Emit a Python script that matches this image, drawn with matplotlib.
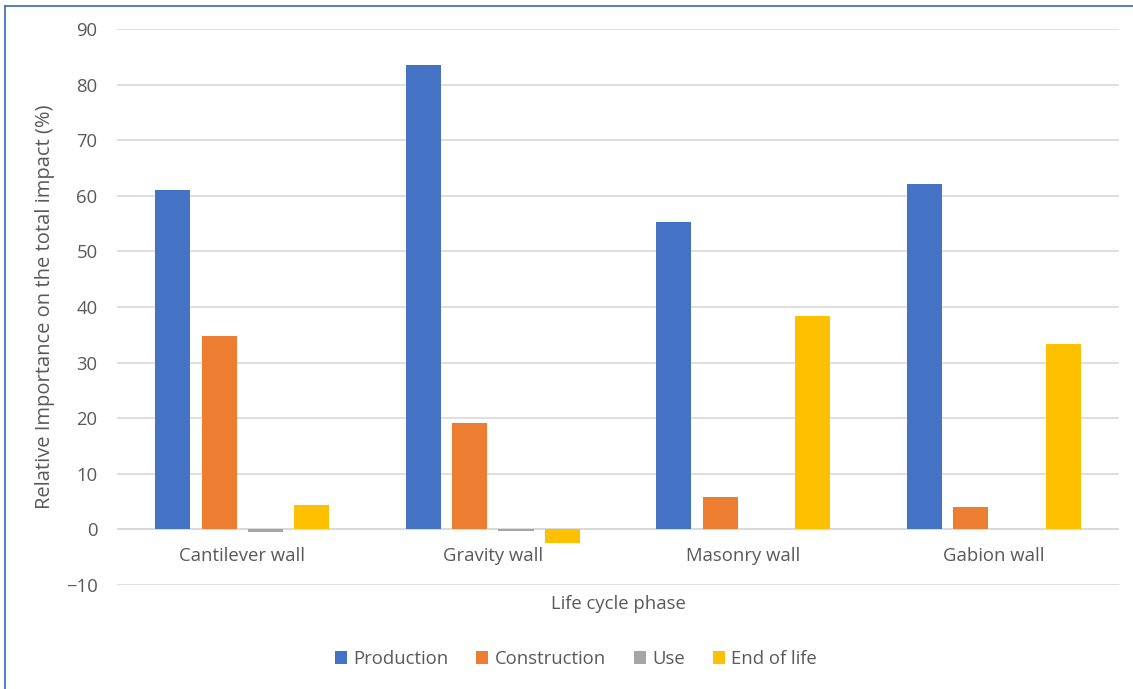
import matplotlib.pyplot as plt
import numpy as np
from matplotlib.lines import Line2D

plt.rcParams["font.family"] = ["Open Sans", "DejaVu Sans"]

walls = ["Cantilever wall", "Gravity wall", "Masonry wall", "Gabion wall"]
phases = ["Production", "Construction", "Use", "End of life"]
production = [61.1, 83.5, 55.3, 62.1]
construction = [34.7, 19.1, 5.9, 4.1]
use = [-0.4, -0.3, 0.0, 0.0]
end_of_life = [4.3, -2.5, 38.4, 33.4]
colors = ["#4472C4", "#ED7D31", "#A5A5A5", "#FFC000"]

text_col = "#595959"
grid_col = "#D9D9D9"
fs = 13.3

fig = plt.figure(figsize=(11.33, 6.89), dpi=100)
ax = fig.add_axes([0.1033, 0.151, 0.8844, 0.807])

x = np.arange(len(walls))
w = 0.14
stride = 0.185
series = [production, construction, use, end_of_life]
for i, (vals, name, c) in enumerate(zip(series, phases, colors)):
    ax.bar(x + (i - 1.5) * stride, vals, width=w, color=c, label=name, zorder=3)

ax.set_xlim(-0.5, len(walls) - 0.5)
ax.set_ylim(-10, 90)
ax.set_yticks(range(-10, 91, 10))
ax.set_xticks(x)
ax.set_xticklabels(walls)
# category labels sit at the zero line, like Excel
ax.spines["bottom"].set_position(("data", 0))
ax.tick_params(axis="both", length=0, labelsize=fs, colors=text_col)
ax.tick_params(axis="x", pad=13)
ax.tick_params(axis="y", pad=14)
ax.grid(axis="y", color=grid_col, linewidth=1.2, zorder=0)
ax.axhline(0, color=grid_col, linewidth=1.2, zorder=2)
for s in ax.spines.values():
    s.set_visible(False)

ax.set_ylabel("Relative Importance on the total impact (%)", fontsize=14.5,
              color=text_col)
ax.yaxis.set_label_coords(-0.062, 0.5)
ax.set_xlabel("Life cycle phase", fontsize=fs, color=text_col)
ax.xaxis.set_label_coords(0.5, -0.018)

ax.legend(loc="center", bbox_to_anchor=(0.458, -0.133), ncol=4,
          frameon=False, fontsize=fs, labelcolor=text_col, handlelength=0.65,
          handleheight=0.65, columnspacing=1.5, handletextpad=0.35)

# chart frame (left and top edges only visible)
fig.add_artist(Line2D([0.0045, 0.0045], [0, 0.992], color="#4472C4", linewidth=1.3))
fig.add_artist(Line2D([0.0045, 1.0], [0.992, 0.992], color="#4472C4", linewidth=1.3))

fig.savefig("out.png", dpi=100)
